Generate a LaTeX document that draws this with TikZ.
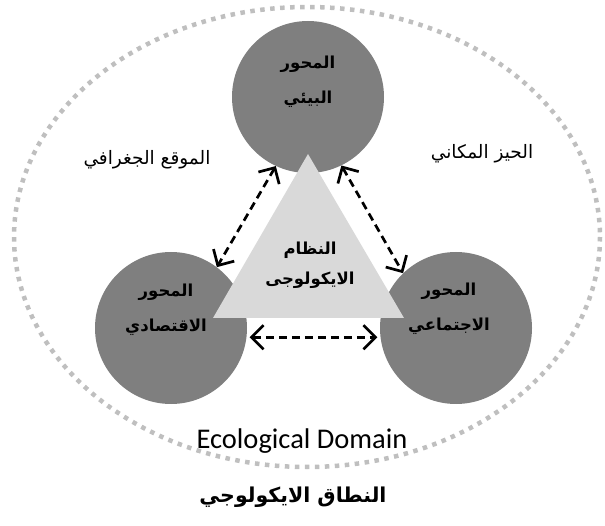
\documentclass[tikz,border=0pt]{standalone}
\usepackage{fontspec}
\newfontfamily\latinfont{Carlito}
\newfontfamily\arabicfont[Script=Arabic]{DejaVu Sans}
\TeXXeTstate=1
\usetikzlibrary{arrows.meta}
\definecolor{circgray}{HTML}{7F7F7F}
\definecolor{trigray}{HTML}{D9D9D9}
\definecolor{dotgray}{HTML}{BFBFBF}
\begin{document}
\begin{tikzpicture}[x=1pt,y=-1pt,
  axisnode/.style={circle, fill=circgray, minimum size=152pt, inner sep=0pt},
  plainar/.style={font=\arabicfont\fontsize{18.5}{22}\selectfont, align=center, inner sep=0pt},
  boldar/.style={font=\arabicfont\bfseries\fontsize{16.5}{35}\selectfont, align=center, inner sep=0pt},
  link/.style={line width=2.7pt, dash pattern=on 8pt off 5pt,
    arrows={Straight Barb[length=12pt,width=24pt]-Straight Barb[length=12pt,width=24pt]}}]
\useasboundingbox (0,0) rectangle (605,526);
% domain ellipse
\draw[dotgray, line width=4.5pt, dash pattern=on 4.5pt off 5.5pt] (307,237) ellipse [x radius=293, y radius=230];
% axes
\node[axisnode] (env) at (308,97) {};
\node[axisnode] (eco) at (171,328) {};
\node[axisnode] (soc) at (456,328) {};
% triangle
\fill[trigray] (213,318) -- (404,318) -- (308,154) -- cycle;
% texts
\node[boldar] (envtxt) at (308,82) {\beginR المحور\endR\\\beginR البيئي\endR};
\node[boldar] (ecotxt) at (166,310) {\beginR المحور\endR\\\beginR الاقتصادي\endR};
\node[boldar] (soctxt) at (449,309) {\beginR المحور\endR\\\beginR الاجتماعي\endR};
\node[boldar, font=\arabicfont\bfseries\fontsize{16.5}{30}\selectfont] (systxt) at (310,265) {\beginR النظام\endR\\\beginR الايكولوجى\endR};
\node[plainar] (geo) at (147,160) {\beginR الموقع الجغرافي\endR};
\node[plainar] (space) at (482,154) {\beginR الحيز المكاني\endR};
\node[font=\latinfont\fontsize{28.5}{32}\selectfont, inner sep=0pt] (domain) at (302,441) {Ecological Domain};
\node[font=\arabicfont\bfseries\fontsize{20.5}{24}\selectfont, inner sep=0pt] (title) at (293,497) {\beginR النطاق الايكولوجي\endR};
% connectors
\draw[link] (env.245) -- (eco.53);
\draw[link] (env.296) -- (soc.134);
\draw[link] ([xshift=3pt]eco.-7) -- ([xshift=-3pt]soc.187);
\end{tikzpicture}
\end{document}
